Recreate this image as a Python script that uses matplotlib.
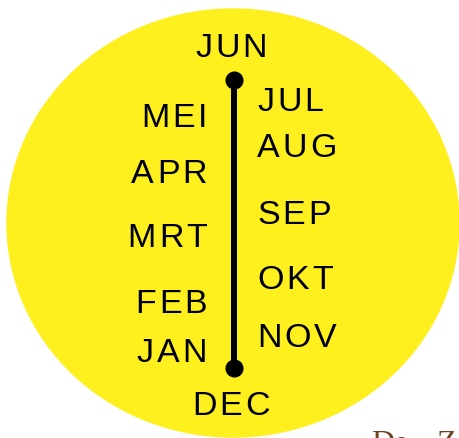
import matplotlib
matplotlib.use("Agg")
import matplotlib.pyplot as plt
from matplotlib.patches import Ellipse
from matplotlib.font_manager import FontProperties

# maanden links en rechts van de lijn
left_months = ["MEI", "APR", "MRT", "FEB", "JAN"]
left_base = [127, 183, 247, 313, 362]
right_months = ["JUL", "AUG", "SEP", "OKT", "NOV"]
right_base = [111, 157, 224, 289, 347]
top_month = "JUN"
bottom_month = "DEC"

W, H = 459, 438
fig = plt.figure(figsize=(W / 100, H / 100), dpi=100)
ax = fig.add_axes([0, 0, 1, 1])
ax.set_xlim(0, W)
ax.set_ylim(H, 0)
ax.axis("off")

ax.add_patch(Ellipse((233, 223), 452, 428, color="#fef01f", zorder=1))

# de as met bolletjes
ax.plot([234, 234], [80, 368], color="black", lw=4.3, solid_capstyle="butt", zorder=2)
ax.plot([234, 234], [80, 368], "o", color="black", ms=12, zorder=3)

fp = FontProperties(family="Liberation Sans", size=24.5)
renderer = fig.canvas.get_renderer()
track = 3


def spaced_text(x, y, s, ha="left"):
    widths = [renderer.get_text_width_height_descent(c, fp, ismath=False)[0] for c in s]
    total = sum(widths) + track * (len(s) - 1)
    if ha == "right":
        x = x - total
    elif ha == "center":
        x = x - total / 2
    for c, w in zip(s, widths):
        ax.text(x, y, c, fontproperties=fp, va="baseline", ha="left", zorder=4)
        x += w + track


spaced_text(231, 57, top_month, ha="center")
spaced_text(231, 415, bottom_month, ha="center")
for m, b in zip(left_months, left_base):
    spaced_text(207, b, m, ha="right")
for m, b in zip(right_months, right_base):
    spaced_text(257, b, m, ha="left")

# stukje tekst onderaan, valt grotendeels buiten beeld
ax.text(371, 452, "De", family="Liberation Serif", fontsize=23, color="#6b4423", va="baseline")
ax.text(436, 452, "Zon", family="Liberation Serif", fontsize=23, color="#6b4423", va="baseline")

fig.savefig("out.png", dpi=100)
